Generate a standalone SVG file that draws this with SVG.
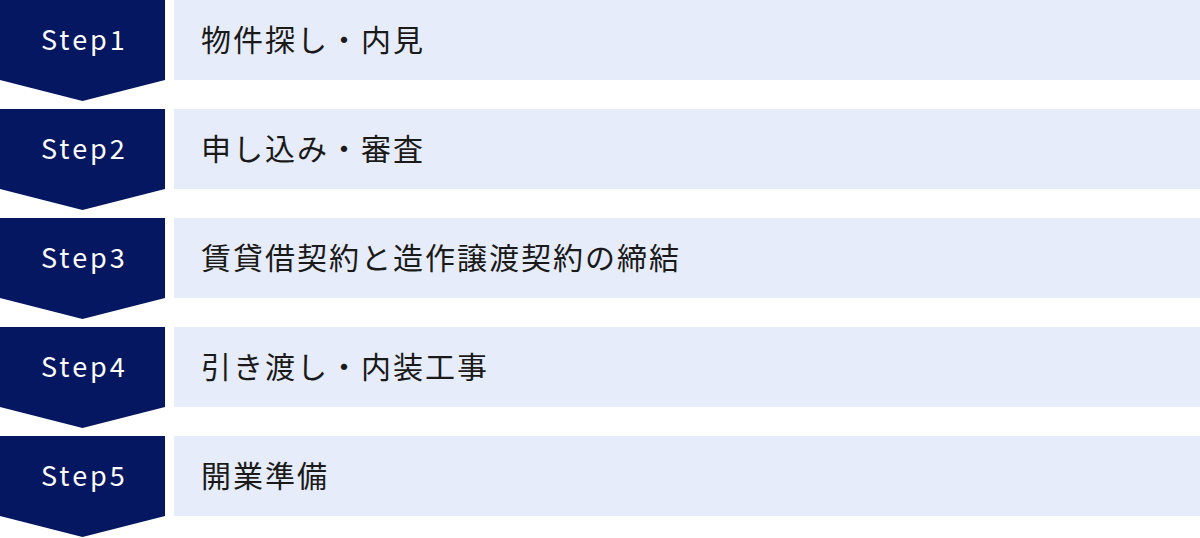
<svg xmlns="http://www.w3.org/2000/svg" width="1200" height="538" viewBox="0 0 1200 538">
<defs>
<style>
.chev{fill:#041760}
.box{fill:#E6ECF9}
.step{fill:#ffffff;font-family:"Noto Sans CJK JP","Noto Sans",sans-serif;font-size:27px;letter-spacing:3px}
.label{fill:#1a1a1a;font-family:"Noto Sans CJK JP",sans-serif;font-size:30px;letter-spacing:2px}
</style>
<path id="chevShape" class="chev" d="M0,0 H165 V80 L82.5,101 L0,80 Z"/>
<rect id="boxShape" class="box" x="174" y="0" width="1026" height="80"/>
</defs>
<g id="connectors"></g>
<g id="step1" transform="translate(0,0)">
<use href="#chevShape"/><use href="#boxShape"/>
<text class="step" x="41" y="50">Step1</text>
<text class="label" x="201" y="51">物件探し・内見</text>
</g>
<g id="step2" transform="translate(0,109)">
<use href="#chevShape"/><use href="#boxShape"/>
<text class="step" x="41" y="50">Step2</text>
<text class="label" x="201" y="51">申し込み・審査</text>
</g>
<g id="step3" transform="translate(0,218)">
<use href="#chevShape"/><use href="#boxShape"/>
<text class="step" x="41" y="50">Step3</text>
<text class="label" x="201" y="51">賃貸借契約と造作譲渡契約の締結</text>
</g>
<g id="step4" transform="translate(0,327)">
<use href="#chevShape"/><use href="#boxShape"/>
<text class="step" x="41" y="50">Step4</text>
<text class="label" x="201" y="51">引き渡し・内装工事</text>
</g>
<g id="step5" transform="translate(0,436)">
<use href="#chevShape"/><use href="#boxShape"/>
<text class="step" x="41" y="50">Step5</text>
<text class="label" x="201" y="51">開業準備</text>
</g>
</svg>
